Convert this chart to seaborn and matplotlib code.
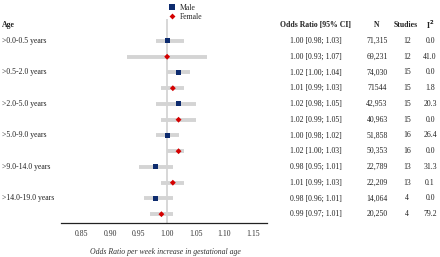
import matplotlib
matplotlib.use("Agg")
import matplotlib.pyplot as plt
import matplotlib.transforms as mtransforms
import seaborn as sns
import pandas as pd
import numpy as np

age_groups = [">0.0-0.5 years", ">0.5-2.0 years", ">2.0-5.0 years",
              ">5.0-9.0 years", ">9.0-14.0 years", ">14.0-19.0 years"]
sexes = ["Male", "Female"]
odds = [1.00, 1.00, 1.02, 1.01, 1.02, 1.02, 1.00, 1.02, 0.98, 1.01, 0.98, 0.99]
ci_low = [0.98, 0.93, 1.00, 0.99, 0.98, 0.99, 0.98, 1.00, 0.95, 0.99, 0.96, 0.97]
ci_high = [1.03, 1.07, 1.04, 1.03, 1.05, 1.05, 1.02, 1.03, 1.01, 1.03, 1.01, 1.01]
n_text = ["71,315", "69,231", "74,030", "71544", "42,953", "40,963",
          "51,858", "50,353", "22,789", "22,209", "14,064", "20,250"]
studies = ["12", "12", "15", "15", "15", "15", "16", "16", "13", "13", "4", "4"]
i2 = ["0.0", "41.0", "0.0", "1.8", "20.3", "0.0", "26.4", "0.0", "31.3", "0.1", "0.0", "79.2"]
xticks = [0.85, 0.90, 0.95, 1.00, 1.05, 1.10, 1.15]

rows = []
for i in range(12):
    rows.append(dict(row=i + 1, sex=sexes[i % 2], age=age_groups[i // 2],
                     OR=odds[i], lo=ci_low[i], hi=ci_high[i]))
df = pd.DataFrame(rows)

sns.set_style("white")
plt.rcParams['font.family'] = ['Liberation Serif', 'DejaVu Serif']

W, H = 440, 257
fig = plt.figure(figsize=(W / 100, H / 100), dpi=100)
ax = fig.add_axes([61 / W, 34 / H, (267 - 61) / W, (223 - 18) / H])

fs = 5.6
gray = "#d4d4d4"
ax.vlines(1.0, -0.4, 12.6, color=gray, lw=1.3, zorder=1)
ax.hlines(df["row"], df["lo"], df["hi"], color=gray, lw=2.8, zorder=2)
sns.scatterplot(data=df, x="OR", y="row", hue="sex", style="sex",
                hue_order=sexes, style_order=sexes,
                palette={"Male": "#0d2b6e", "Female": "#d40000"},
                markers={"Male": "s", "Female": "D"},
                size="sex", sizes={"Male": 13, "Female": 9}, size_order=sexes,
                edgecolor="none", linewidth=0, zorder=3, ax=ax)

ax.set_xlim(0.814, 1.175)
ax.set_ylim(12.56, -0.46)
ax.set_yticks([])
ax.set_xticks(xticks)
ax.set_xticklabels([f"{t:.2f}" for t in xticks])
ax.tick_params(axis="x", length=0, labelsize=fs, labelcolor="#333333", pad=5)
for s in ["top", "right", "left"]:
    ax.spines[s].set_visible(False)
ax.spines["bottom"].set_color("#222222")
ax.spines["bottom"].set_linewidth(0.9)
ax.set_xlabel("")
ax.set_ylabel("")
fig.text(165 / W, 1 - 252 / H, "Odds Ratio per week increase in gestational age",
         fontsize=fs, style="italic", color="#333333", ha="center", va="center")

sns.move_legend(ax, loc="upper left", bbox_to_anchor=(160 / W, 1.0),
                bbox_transform=fig.transFigure, frameon=False, title=None,
                fontsize=fs, handletextpad=0.0, labelspacing=0.15,
                borderpad=0.0, markerscale=1.0)

tr = mtransforms.blended_transform_factory(fig.transFigure, ax.transData)
tc = "#222222"
ax.text(2 / W, 0, "Age", transform=tr, fontsize=fs, fontweight="bold",
        ha="left", va="center", color=tc, clip_on=False)
for j, a in enumerate(age_groups):
    ax.text(2 / W, 2 * j + 1, a, transform=tr, fontsize=fs, ha="left",
            va="center", color=tc, clip_on=False)

cols = [(316 / W, "Odds Ratio [95% CI]"), (377 / W, "N"),
        (406 / W, "Studies"), (430 / W, "I$^\\mathbf{2}$")]
for x, h in cols:
    ax.text(x, 0, h, transform=tr, fontsize=fs, fontweight="bold",
            ha="center", va="center", color=tc, clip_on=False)
for i in range(12):
    y = i + 1
    ax.text(316 / W, y, f"{odds[i]:.2f} [{ci_low[i]:.2f}; {ci_high[i]:.2f}]",
            transform=tr, fontsize=fs, ha="center", va="center", color=tc, clip_on=False)
    ax.text(377 / W, y, n_text[i], transform=tr, fontsize=fs, ha="center",
            va="center", color=tc, clip_on=False)
    ax.text(407 / W, y, studies[i], transform=tr, fontsize=fs, ha="center",
            va="center", color=tc, clip_on=False)
    ax.text(430 / W, y, i2[i], transform=tr, fontsize=fs, ha="center",
            va="center", color=tc, clip_on=False)

fig.savefig("out.png", dpi=100)
